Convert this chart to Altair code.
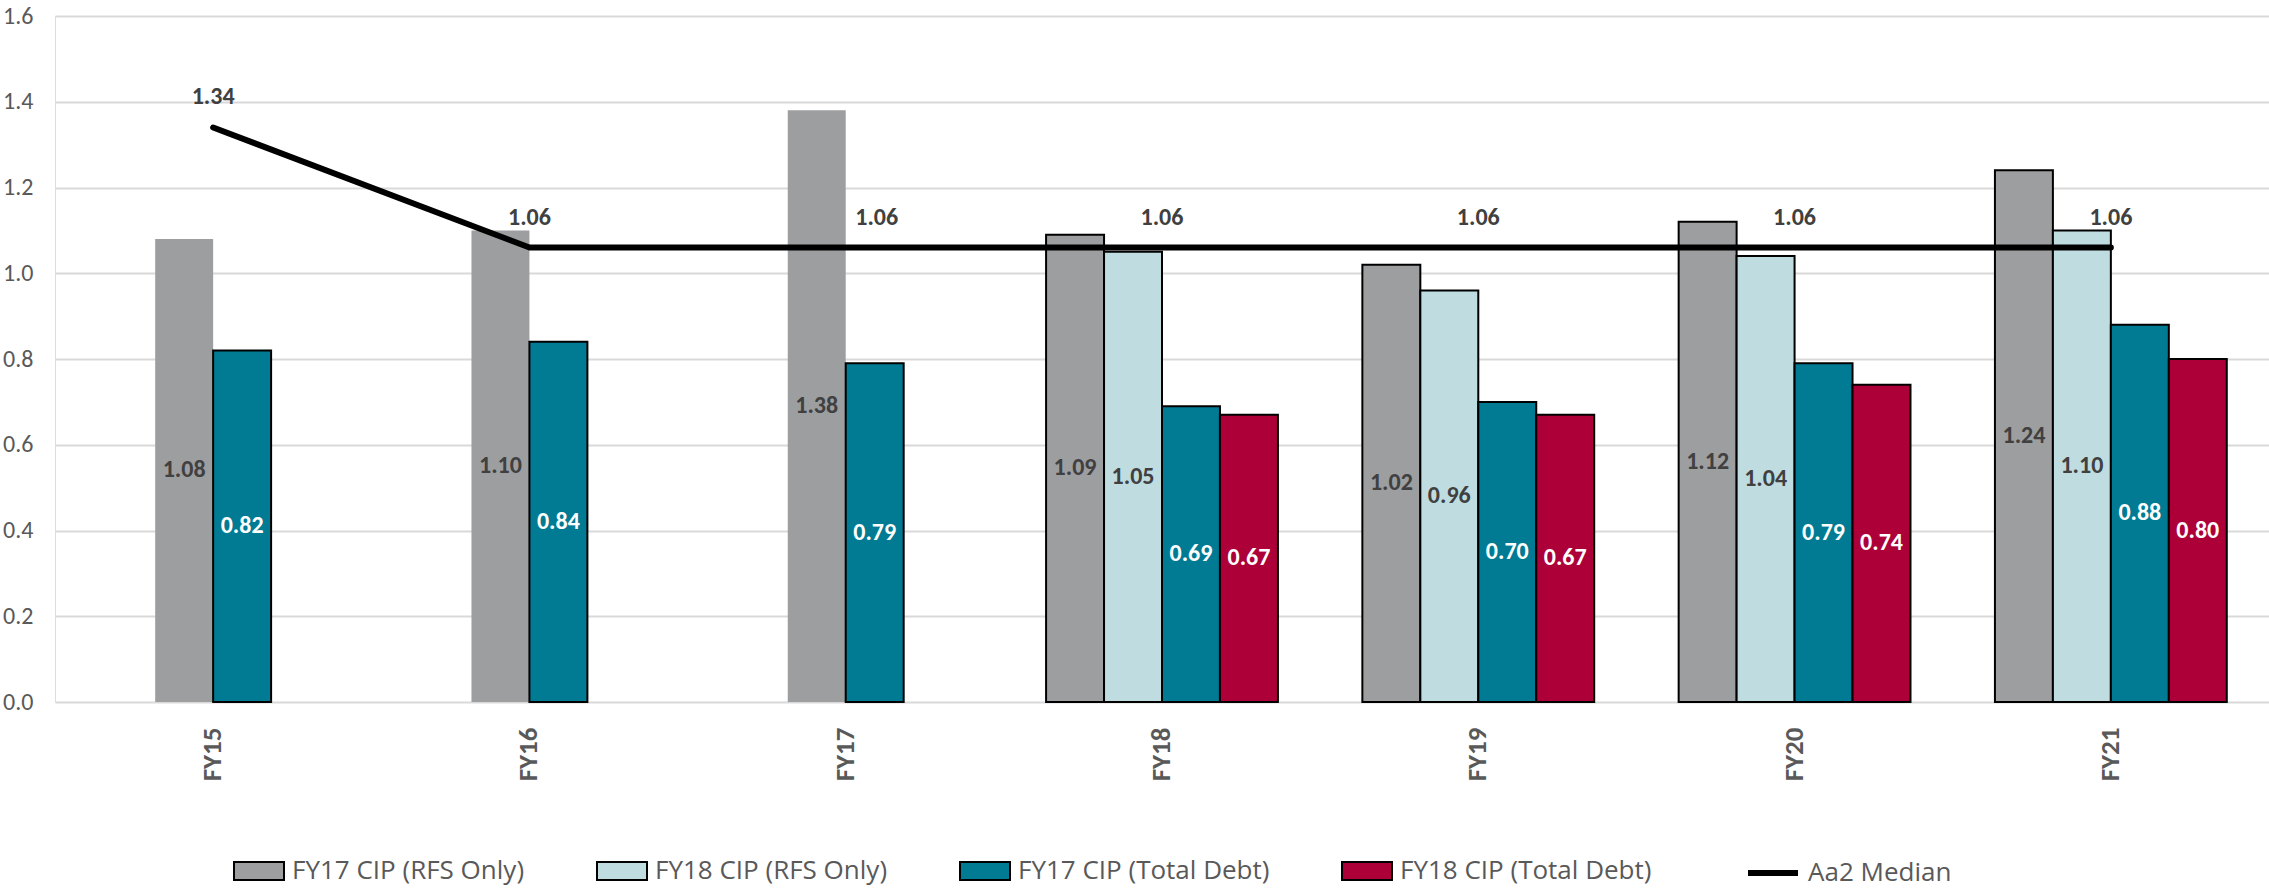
import altair as alt
import pandas as pd

# Fiscal years on the category axis
years = ["FY15", "FY16", "FY17", "FY18", "FY19", "FY20", "FY21"]

# Coverage ratios per series (None where the plan has no figure)
fy17_rfs_only = [1.08, 1.10, 1.38, 1.09, 1.02, 1.12, 1.24]
fy18_rfs_only = [None, None, None, 1.05, 0.96, 1.04, 1.10]
fy17_total_debt = [0.82, 0.84, 0.79, 0.69, 0.70, 0.79, 0.88]
fy18_total_debt = [None, None, None, 0.67, 0.67, 0.74, 0.80]
aa2_median = [1.34, 1.06, 1.06, 1.06, 1.06, 1.06, 1.06]

bar_names = [
    "FY17 CIP (RFS Only)",
    "FY18 CIP (RFS Only)",
    "FY17 CIP (Total Debt)",
    "FY18 CIP (Total Debt)",
]
bar_colors = ["#9d9ea0", "#bfdde0", "#007b93", "#ad0039"]
label_colors = ["#404040", "#404040", "#ffffff", "#ffffff"]
median_name = "Aa2 Median"

FONT = "Carlito, Calibri, Lato, Open Sans, sans-serif"
LEGEND_FONT = "Open Sans"
TEXT_GREY = "#595959"

bar_series = list(zip(bar_names, [fy17_rfs_only, fy18_rfs_only, fy17_total_debt, fy18_total_debt], label_colors))

# One row per drawn bar; years with only two bars keep them centred in the group
rows = []
for i, yr in enumerate(years):
    present = [(name, vals[i], lc) for name, vals, lc in bar_series if vals[i] is not None]
    start = (4 - len(present)) / 2
    for k, (name, v, lc) in enumerate(present):
        rows.append({
            "year": yr,
            "series": name,
            "value": v,
            "mid": v / 2,
            "slot": int(start + k),
            "label": f"{v:.2f}",
            "labelColor": lc,
            "outline": 0 if (name == bar_names[0] and len(present) == 2) else 2,
        })
bars_df = pd.DataFrame(rows)

median_df = pd.DataFrame({
    "year": years,
    "value": aa2_median,
    "label": [f"{v:.2f}" for v in aa2_median],
    "series": median_name,
})

x_enc = alt.X(
    "year:N",
    sort=years,
    scale=alt.Scale(paddingInner=0.267, paddingOuter=0.1335),
    axis=alt.Axis(
        title=None,
        labelAngle=270,
        labelFont=FONT,
        labelFontSize=27,
        labelFontWeight="bold",
        labelColor=TEXT_GREY,
        labelPadding=25,
        ticks=False,
        domain=False,
        grid=False,
    ),
)
y_scale = alt.Scale(domain=[0, 1.6], nice=False)
y_axis = alt.Axis(
    title=None,
    values=[0, 0.2, 0.4, 0.6, 0.8, 1.0, 1.2, 1.4, 1.6],
    format=".1f",
    labelFont=FONT,
    labelFontSize=24,
    labelColor=TEXT_GREY,
    labelPadding=22,
    ticks=False,
    domain=False,
    grid=True,
    gridColor="#d9d9d9",
    gridWidth=2,
)
offset_enc = alt.XOffset("slot:O", scale=alt.Scale(domain=[0, 1, 2, 3], paddingInner=0, paddingOuter=0))

legend_common = dict(
    title=None,
    orient="none",
    direction="horizontal",
    labelFont=LEGEND_FONT,
    labelFontSize=26,
    labelColor=TEXT_GREY,
    labelLimit=500,
    labelOffset=7,
    symbolSize=2500,
    padding=0,
)

bar_legend = alt.Legend(
    legendX=178,
    legendY=829,
    columnPadding=68,
    symbolType="M-1,-0.36H1V0.36H-1Z",
    symbolStrokeColor="black",
    symbolStrokeWidth=2,
    **legend_common,
)
line_legend = alt.Legend(
    legendX=1690,
    legendY=829,
    symbolType="stroke",
    symbolStrokeWidth=6,
    **legend_common,
)

bars = alt.Chart(bars_df).mark_bar(stroke="black").encode(
    x=x_enc,
    xOffset=offset_enc,
    y=alt.Y("value:Q", scale=y_scale, axis=y_axis),
    color=alt.Color("series:N", sort=bar_names, scale=alt.Scale(domain=bar_names, range=bar_colors), legend=bar_legend),
    strokeWidth=alt.StrokeWidth("outline:Q", scale=None),
)

bar_labels = alt.Chart(bars_df).mark_text(
    font=FONT, fontSize=24, fontWeight="bold", baseline="middle", align="center"
).encode(
    x=alt.X("year:N", sort=years),
    xOffset=offset_enc,
    y=alt.Y("mid:Q", scale=y_scale),
    text="label:N",
    color=alt.Color("labelColor:N", scale=None),
)

median_line = alt.Chart(median_df).mark_line(
    strokeWidth=6, strokeCap="round", strokeJoin="round"
).encode(
    x=alt.X("year:N", sort=years),
    y=alt.Y("value:Q", scale=y_scale),
    stroke=alt.Stroke("series:N", scale=alt.Scale(domain=[median_name], range=["#000000"]), legend=line_legend),
)

median_text_style = dict(font=FONT, fontSize=24, fontWeight="bold", color="#404040", baseline="alphabetic", dy=-23)
median_labels = alt.Chart(median_df).transform_filter(alt.datum.year != "FY17").mark_text(**median_text_style).encode(
    x=alt.X("year:N", sort=years),
    y=alt.Y("value:Q", scale=y_scale),
    text="label:N",
)
median_label_fy17 = alt.Chart(median_df).transform_filter(alt.datum.year == "FY17").mark_text(dx=31, **median_text_style).encode(
    x=alt.X("year:N", sort=years),
    y=alt.Y("value:Q", scale=y_scale),
    text="label:N",
)

chart = alt.layer(bars, bar_labels, median_line, median_labels, median_label_fy17).resolve_scale(
    color="independent"
).properties(
    width=2214,
    height=686,
    autosize=alt.AutoSizeParams(type="none"),
    padding={"left": 55, "top": 16, "right": 0, "bottom": 187},
).configure_view(stroke=None).configure(background="white")

chart.save("out.html", embed_options={"renderer": "svg", "actions": False})
